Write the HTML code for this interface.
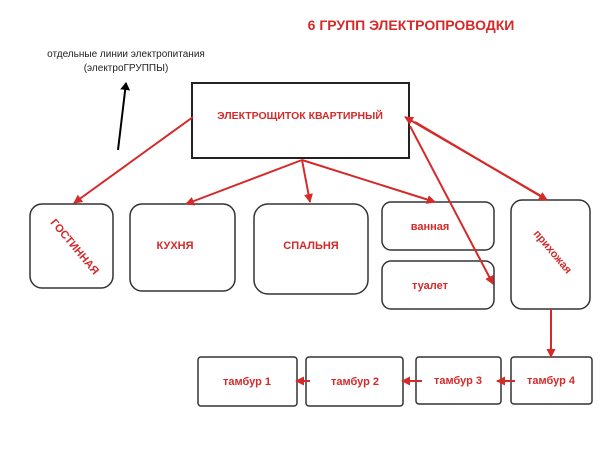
<!DOCTYPE html>
<html><head><meta charset="utf-8"><style>
body{margin:0;background:#fff;}
svg text{font-family:"Liberation Sans",sans-serif;font-weight:bold;fill:#d42a2a;}
</style></head><body>
<svg width="600" height="449" viewBox="0 0 600 449" xmlns="http://www.w3.org/2000/svg">
<defs>
<marker id="a" markerWidth="9" markerHeight="9" refX="8" refY="4.5" orient="auto" markerUnits="userSpaceOnUse" viewBox="0 0 9 9"><path d="M0,0 L9,4.5 L0,9z" fill="#d42a2a"/></marker>
<marker id="k" markerWidth="8" markerHeight="10" refX="7" refY="5" orient="auto" markerUnits="userSpaceOnUse" viewBox="0 0 8 10"><path d="M0,0 L8,5 L0,10z" fill="#000"/></marker>
</defs>
<text x="411" y="30" font-size="14" text-anchor="middle">6 ГРУПП ЭЛЕКТРОПРОВОДКИ</text>
<text x="126" y="57" font-size="10" text-anchor="middle" style="fill:#222;font-weight:normal">отдельные линии электропитания</text>
<text x="126" y="71" font-size="10" text-anchor="middle" style="fill:#222;font-weight:normal">(электроГРУППЫ)</text>
<line x1="118" y1="150" x2="126" y2="83" stroke="#000" stroke-width="2" marker-end="url(#k)"/>
<rect x="192" y="83" width="217" height="75" fill="#fff" stroke="#222" stroke-width="2"/>
<text x="300" y="119" font-size="10.5" text-anchor="middle">ЭЛЕКТРОЩИТОК КВАРТИРНЫЙ</text>
<g fill="#fff" stroke="#333" stroke-width="1.5">
<rect x="30" y="204" width="83" height="84" rx="12"/>
<rect x="130" y="204" width="105" height="87" rx="12"/>
<rect x="254" y="204" width="114" height="90" rx="14"/>
<rect x="382" y="202" width="112" height="48" rx="9"/>
<rect x="382" y="261" width="112" height="48" rx="9"/>
<rect x="511" y="200" width="79" height="109" rx="11"/>
<rect x="198" y="357" width="99" height="49" rx="3"/>
<rect x="306" y="357" width="97" height="49" rx="3"/>
<rect x="416" y="357" width="85" height="47" rx="3"/>
<rect x="511" y="357" width="81" height="47" rx="3"/>
</g>
<g stroke="#d42a2a" stroke-width="2" fill="none" marker-end="url(#a)">
<line x1="193" y1="117" x2="74" y2="203"/>
<line x1="302" y1="160" x2="186" y2="204"/>
<line x1="302" y1="160" x2="310" y2="202"/>
<line x1="302" y1="160" x2="435" y2="202"/>
<line x1="410" y1="126" x2="493" y2="284"/>
<line x1="415" y1="122" x2="547" y2="200"/>
<line x1="541" y1="196" x2="405" y2="117"/>
<line x1="551" y1="309" x2="551" y2="357"/>
<line x1="515" y1="381" x2="497" y2="381"/>
<line x1="422" y1="381" x2="402" y2="381"/>
<line x1="310" y1="381" x2="296" y2="381"/>
</g>
<text x="72" y="249" font-size="11" text-anchor="middle" transform="rotate(50 72 249)">ГОСТИННАЯ</text>
<text x="175" y="249" font-size="11" text-anchor="middle">КУХНЯ</text>
<text x="311" y="249" font-size="11" text-anchor="middle">СПАЛЬНЯ</text>
<text x="430" y="230" font-size="11" text-anchor="middle">ванная</text>
<text x="430" y="289" font-size="11" text-anchor="middle">туалет</text>
<text x="550" y="254" font-size="11" text-anchor="middle" transform="rotate(50 550 254)">прихожая</text>
<text x="247" y="385" font-size="11" text-anchor="middle">тамбур 1</text>
<text x="355" y="385" font-size="11" text-anchor="middle">тамбур 2</text>
<text x="458" y="384" font-size="11" text-anchor="middle">тамбур 3</text>
<text x="551" y="384" font-size="11" text-anchor="middle">тамбур 4</text>
</svg>
</body></html>
